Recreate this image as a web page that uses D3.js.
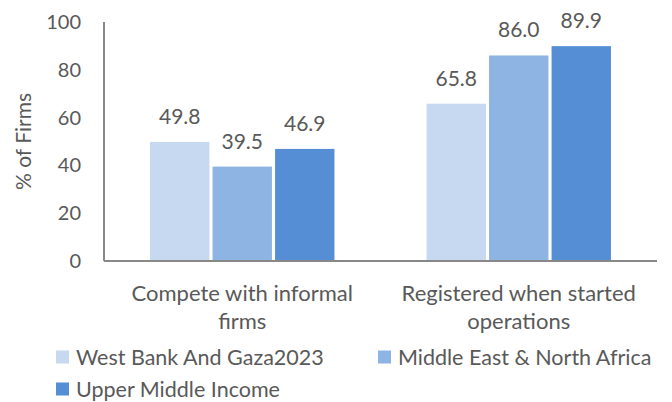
<!DOCTYPE html>
<html>
<head>
<meta charset="utf-8">
<script src="https://cdn.jsdelivr.net/npm/d3@7"></script>
<style>
  body { margin: 0; background: #fff; }
  text { font-family: "Lato", sans-serif; fill: #595959; }
</style>
</head>
<body>
<div id="chart"></div>
<script>
// data
const categories = [["Compete with informal", "firms"], ["Registered when started", "operations"]];
const seriesNames = ["West Bank And Gaza2023", "Middle East & North Africa", "Upper Middle Income"];
const westBank = [49.8, 65.8];
const mena = [39.5, 86.0];
const upperMiddle = [46.9, 89.9];
const yTicks = [0, 20, 40, 60, 80, 100];

const colors = ["#C6D9F1", "#8EB4E3", "#558ED5"];
const seriesValues = [westBank, mena, upperMiddle];

const width = 672, height = 402;
const margin = {top: 22, right: 15, bottom: 141, left: 104};

const svg = d3.select("#chart")
    .append("svg")
    .attr("width", width)
    .attr("height", height);

const x0 = d3.scaleBand()
    .domain(d3.range(categories.length))
    .range([margin.left, width - margin.right])
    .paddingInner(0)
    .paddingOuter(0);

// bars take roughly 2/3 of each category slot
const x1 = d3.scaleBand()
    .domain(d3.range(seriesNames.length))
    .range([0, x0.bandwidth() * 0.667])
    .paddingInner(0.05);

const y = d3.scaleLinear()
    .domain([0, 100])
    .range([height - margin.bottom, margin.top]);

// y tick labels
svg.append("g")
    .selectAll("text")
    .data(yTicks)
    .enter().append("text")
    .attr("x", 81)
    .attr("y", d => y(d))
    .attr("dy", "0.35em")
    .attr("text-anchor", "end")
    .style("font-size", "20px")
    .text(d => d);

// y axis title
svg.append("text")
    .attr("transform", `translate(31, ${(y(0) + y(100)) / 2}) rotate(-90)`)
    .attr("text-anchor", "middle")
    .style("font-size", "21px")
    .text("% of Firms");

// bars
const groups = svg.selectAll(".group")
    .data(categories)
    .enter().append("g")
    .attr("class", "group")
    .attr("transform", (d, i) => `translate(${x0(i) + x0.bandwidth() * 0.1665}, 0)`);

groups.selectAll("rect")
    .data((d, i) => seriesValues.map((s, j) => ({series: j, value: s[i]})))
    .enter().append("rect")
    .attr("x", d => x1(d.series))
    .attr("y", d => y(d.value))
    .attr("width", x1.bandwidth())
    .attr("height", d => y(0) - y(d.value))
    .attr("fill", d => colors[d.series]);

groups.selectAll(".label")
    .data((d, i) => seriesValues.map((s, j) => ({series: j, value: s[i]})))
    .enter().append("text")
    .attr("class", "label")
    .attr("x", d => x1(d.series) + x1.bandwidth() / 2)
    .attr("y", d => y(d.value) - 18)
    .attr("text-anchor", "middle")
    .style("font-size", "21px")
    .text(d => d.value.toFixed(1));

// axis lines
svg.append("line")
    .attr("x1", margin.left).attr("x2", margin.left)
    .attr("y1", y(100)).attr("y2", y(0))
    .attr("stroke", "#888").attr("stroke-width", 2);

svg.append("line")
    .attr("x1", margin.left).attr("x2", width - margin.right)
    .attr("y1", y(0)).attr("y2", y(0))
    .attr("stroke", "#888").attr("stroke-width", 2);

// category labels (two lines each)
const catLabels = svg.selectAll(".cat")
    .data(categories)
    .enter().append("text")
    .attr("class", "cat")
    .attr("text-anchor", "middle")
    .style("font-size", "22px");

catLabels.selectAll("tspan")
    .data(d => d)
    .enter().append("tspan")
    .attr("x", function() {
        const i = categories.indexOf(d3.select(this.parentNode).datum());
        return x0(i) + x0.bandwidth() / 2;
    })
    .attr("y", (d, i) => 301 + i * 28)
    .text(d => d);

// legend
const legendPos = [[56, 357], [378, 357], [56, 389]];

const legend = svg.selectAll(".legend")
    .data(seriesNames)
    .enter().append("g")
    .attr("class", "legend")
    .attr("transform", (d, i) => `translate(${legendPos[i][0]}, ${legendPos[i][1]})`);

legend.append("rect")
    .attr("x", 0)
    .attr("y", -6.5)
    .attr("width", 13)
    .attr("height", 13)
    .attr("fill", (d, i) => colors[i]);

legend.append("text")
    .attr("x", 20)
    .attr("y", 0)
    .attr("dy", "0.35em")
    .style("font-size", "21.5px")
    .text(d => d);
</script>
</body>
</html>
